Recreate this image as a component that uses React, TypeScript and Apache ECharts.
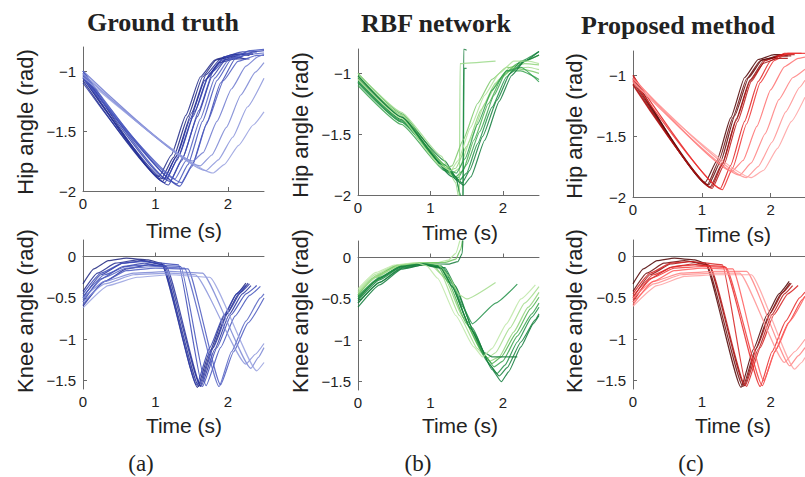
import React, { useEffect, useRef } from "react";
import * as echarts from "echarts";

// ---------- data: each line is a list of [time (s), angle (rad)] ----------
const timeTicks = [0, 1, 2];
const hipTicks = [-2, -1.5, -1];
const kneeTicks = [-1.5, -1, -0.5, 0];

const hipTruth: number[][][] = [
  [[0,-1.0],[1.08,-1.9],[1.25,-1.72],[1.45,-1.38],[1.65,-1.05],[1.85,-0.9],[2.1,-0.86],[2.3,-0.87]],
  [[0,-1.03],[1.1,-1.92],[1.28,-1.72],[1.5,-1.35],[1.7,-1.03],[1.9,-0.9],[2.15,-0.86],[2.35,-0.86]],
  [[0,-1.05],[1.13,-1.93],[1.3,-1.74],[1.52,-1.38],[1.72,-1.06],[1.92,-0.91],[2.2,-0.88]],
  [[0,-1.08],[1.05,-1.88],[1.22,-1.7],[1.42,-1.37],[1.62,-1.05],[1.82,-0.91],[2.05,-0.88],[2.25,-0.9]],
  [[0,-1.02],[1.15,-1.9],[1.33,-1.7],[1.55,-1.33],[1.75,-1.02],[1.95,-0.88],[2.2,-0.84],[2.4,-0.84]],
  [[0,-1.1],[1.18,-1.95],[1.36,-1.75],[1.58,-1.38],[1.78,-1.05],[1.98,-0.9],[2.2,-0.86],[2.35,-0.86]],
  [[0,-1.0],[1.2,-1.92],[1.38,-1.72],[1.6,-1.33],[1.8,-1.0],[2.0,-0.88],[2.25,-0.85]],
  [[0,-1.06],[1.12,-1.9],[1.3,-1.7],[1.48,-1.4],[1.68,-1.08],[1.88,-0.93],[2.1,-0.9],[2.3,-0.9]],
  [[0,-1.0],[1.3,-1.94],[1.45,-1.78],[1.65,-1.42],[1.85,-1.08],[2.05,-0.9],[2.3,-0.83],[2.5,-0.82]],
  [[0,-1.04],[1.34,-1.96],[1.5,-1.8],[1.7,-1.45],[1.9,-1.1],[2.1,-0.9],[2.35,-0.84],[2.5,-0.83]],
  [[0,-1.02],[1.27,-1.9],[1.42,-1.75],[1.62,-1.4],[1.82,-1.06],[2.02,-0.9],[2.3,-0.86],[2.5,-0.85]],
  [[0,-1.06],[1.36,-1.93],[1.52,-1.77],[1.72,-1.42],[1.94,-1.08],[2.14,-0.92],[2.4,-0.87],[2.5,-0.87]],
  [[0,-1.0],[1.52,-1.75],[1.66,-1.68],[1.85,-1.42],[2.05,-1.15],[2.25,-0.96],[2.42,-0.88],[2.5,-0.86]],
  [[0,-1.03],[1.62,-1.79],[1.78,-1.7],[1.98,-1.47],[2.18,-1.2],[2.38,-1.01],[2.5,-0.93]],
  [[0,-1.02],[1.7,-1.83],[1.87,-1.74],[2.07,-1.55],[2.27,-1.3],[2.5,-1.06]],
  [[0,-1.05],[1.8,-1.85],[1.95,-1.78],[2.15,-1.62],[2.35,-1.45],[2.5,-1.34]],
];
const hipTruthColors = ["#1c237e","#232c90","#2a35a0","#1f2887","#3140ad","#2a369f","#3a48b5","#26309a","#4252bb","#3a47b2","#5361c3","#4a58bf","#6d79cf","#7a86d4","#8893da","#97a0df"];

const kneeTruth: number[][][] = [
  [[0,-0.33],[0.15,-0.15],[0.35,-0.05],[0.6,-0.02],[0.9,-0.04],[1.08,-0.08],[1.58,-1.58],[1.75,-1.15],[1.95,-0.72],[2.12,-0.45],[2.25,-0.32]],
  [[0,-0.42],[0.2,-0.2],[0.45,-0.08],[0.75,-0.04],[1.1,-0.1],[1.6,-1.57],[1.78,-1.12],[1.98,-0.7],[2.15,-0.45],[2.28,-0.32]],
  [[0,-0.5],[0.25,-0.22],[0.55,-0.08],[0.85,-0.05],[1.12,-0.1],[1.62,-1.56],[1.8,-1.1],[2.0,-0.68],[2.18,-0.43],[2.3,-0.33]],
  [[0,-0.55],[0.25,-0.27],[0.55,-0.12],[0.85,-0.08],[1.1,-0.12],[1.57,-1.55],[1.75,-1.1],[1.95,-0.7],[2.12,-0.45],[2.25,-0.35]],
  [[0,-0.6],[0.3,-0.3],[0.6,-0.15],[0.9,-0.1],[1.15,-0.12],[1.63,-1.57],[1.82,-1.12],[2.02,-0.7],[2.2,-0.45],[2.32,-0.35]],
  [[0,-0.45],[0.25,-0.2],[0.55,-0.08],[0.85,-0.06],[1.32,-0.1],[1.65,-1.57],[1.85,-1.1],[2.05,-0.7],[2.25,-0.45],[2.4,-0.35]],
  [[0,-0.48],[0.3,-0.22],[0.6,-0.12],[0.9,-0.1],[1.35,-0.12],[1.7,-1.56],[1.9,-1.1],[2.1,-0.72],[2.3,-0.47],[2.45,-0.36]],
  [[0,-0.52],[0.3,-0.25],[0.6,-0.14],[1.0,-0.12],[1.4,-0.14],[1.88,-1.57],[2.05,-1.15],[2.25,-0.78],[2.45,-0.5],[2.5,-0.45]],
  [[0,-0.58],[0.3,-0.3],[0.6,-0.17],[1.0,-0.14],[1.45,-0.15],[1.9,-1.55],[2.08,-1.15],[2.28,-0.8],[2.5,-0.5]],
  [[0,-0.5],[0.3,-0.3],[0.7,-0.2],[1.2,-0.18],[1.65,-0.2],[2.32,-1.35],[2.42,-1.22],[2.5,-1.1]],
  [[0,-0.55],[0.3,-0.33],[0.7,-0.22],[1.2,-0.2],[1.55,-0.22],[2.25,-1.3],[2.38,-1.18],[2.5,-1.05]],
  [[0,-0.62],[0.35,-0.35],[0.75,-0.25],[1.2,-0.22],[1.75,-0.25],[2.4,-1.38],[2.5,-1.28]],
];
const kneeTruthColors = ["#1c237e","#232c90","#2a35a0","#3140ad","#26309a","#3a48b5","#4252bb","#5361c3","#4a58bf","#7a86d4","#8893da","#97a0df"];

const hipRbf: number[][][] = [
  [[0,-1.02],[0.6,-1.35],[1.1,-1.72],[1.25,-1.8],[1.35,-1.78],[1.5,-1.6],[1.7,-1.3],[1.9,-1.08],[2.1,-0.95],[2.3,-0.92],[2.5,-0.93]],
  [[0,-1.05],[0.6,-1.38],[1.15,-1.76],[1.3,-1.82],[1.4,-1.78],[1.55,-1.55],[1.75,-1.25],[1.95,-1.05],[2.15,-0.96],[2.35,-0.95],[2.5,-0.97]],
  [[0,-1.0],[0.6,-1.33],[1.2,-1.75],[1.35,-1.85],[1.45,-1.8],[1.6,-1.55],[1.8,-1.25],[2.0,-1.02],[2.2,-0.92],[2.5,-0.85]],
  [[0,-1.08],[0.6,-1.4],[1.25,-1.8],[1.4,-1.88],[1.5,-1.82],[1.65,-1.58],[1.85,-1.28],[2.05,-1.03],[2.25,-0.9],[2.5,-0.82]],
  [[0,-1.06],[0.6,-1.38],[1.28,-1.82],[1.44,-1.9],[1.54,-1.8],[1.72,-1.52],[1.92,-1.22],[2.1,-1.0],[2.3,-0.9],[2.5,-0.85]],
  [[0,-1.1],[0.6,-1.42],[1.2,-1.8],[1.38,-1.86],[1.5,-1.75],[1.68,-1.48],[1.88,-1.18],[2.05,-0.98],[2.25,-0.98],[2.5,-1.05]],
  [[0,-1.04],[0.6,-1.36],[1.2,-1.72],[1.35,-1.85],[1.45,-2.1],[1.46,-0.8],[1.5,-0.81]],
  [[0,-1.07],[0.6,-1.39],[1.22,-1.76],[1.36,-1.88],[1.45,-2.1],[1.465,-0.96],[1.5,-0.96]],
  [[0,-1.0],[0.6,-1.32],[1.15,-1.68],[1.35,-1.9],[1.4,-2.05],[1.41,-0.92],[1.9,-0.9]],
  [[0,-1.03],[0.6,-1.34],[1.1,-1.7],[1.22,-1.78],[1.3,-1.76],[1.45,-1.55],[1.65,-1.25],[1.85,-1.05],[2.05,-0.95],[2.3,-0.97],[2.5,-1.0]],
  [[0,-1.07],[0.6,-1.4],[1.22,-1.78],[1.36,-1.82],[1.48,-1.7],[1.65,-1.42],[1.85,-1.14],[2.05,-0.98],[2.25,-0.95],[2.5,-1.07]],
  [[0,-1.02],[0.6,-1.36],[1.3,-1.85],[1.46,-1.92],[1.56,-1.85],[1.75,-1.55],[1.95,-1.23],[2.12,-1.02],[2.3,-0.9],[2.5,-0.82]],
  [[0,-1.05],[0.6,-1.37],[1.12,-1.75],[1.28,-1.8],[1.38,-1.72],[1.55,-1.45],[1.75,-1.18],[1.95,-1.0],[2.15,-0.9],[2.35,-0.9],[2.5,-0.92]],
];
const hipRbfColors = ["#8fd47a","#a3dc8c","#4cb04f","#1f8f45","#15803c","#3aa34e","#137a38","#1f8f45","#9bd98a","#7cc96a","#2f9e4f","#0e7a3a","#b0e39a"];

const kneeRbf: number[][][] = [
  [[0,-0.42],[0.2,-0.25],[0.5,-0.12],[0.8,-0.07],[1.0,-0.08],[1.15,-0.2],[1.4,-0.7],[1.65,-1.1],[1.78,-1.22],[1.9,-1.15],[2.1,-0.85],[2.3,-0.55],[2.5,-0.35]],
  [[0,-0.45],[0.25,-0.24],[0.55,-0.1],[0.85,-0.07],[1.05,-0.1],[1.2,-0.25],[1.45,-0.72],[1.7,-1.12],[1.82,-1.25],[1.95,-1.2],[2.15,-0.9],[2.35,-0.6],[2.5,-0.42]],
  [[0,-0.5],[0.25,-0.28],[0.55,-0.12],[0.85,-0.07],[1.1,-0.1],[1.25,-0.3],[1.5,-0.8],[1.72,-1.15],[1.85,-1.28],[1.98,-1.2],[2.18,-0.92],[2.38,-0.62],[2.5,-0.48]],
  [[0,-0.55],[0.3,-0.3],[0.6,-0.12],[0.9,-0.08],[1.15,-0.12],[1.3,-0.35],[1.55,-0.85],[1.78,-1.25],[1.92,-1.4],[2.03,-1.3],[2.2,-1.02],[2.4,-0.72],[2.5,-0.6]],
  [[0,-0.6],[0.3,-0.33],[0.6,-0.14],[0.9,-0.09],[1.2,-0.12],[1.35,-0.35],[1.6,-0.9],[1.85,-1.35],[1.98,-1.5],[2.08,-1.38],[2.25,-1.08],[2.42,-0.8],[2.5,-0.7]],
  [[0,-0.48],[0.3,-0.25],[0.6,-0.1],[0.9,-0.07],[1.12,-0.1],[1.28,-0.3],[1.52,-0.78],[1.75,-1.18],[1.88,-1.32],[2.0,-1.25],[2.2,-0.95],[2.4,-0.68],[2.5,-0.55]],
  [[0,-0.52],[0.3,-0.27],[0.6,-0.11],[0.9,-0.08],[1.18,-0.12],[1.33,-0.33],[1.58,-0.85],[1.82,-1.3],[1.95,-1.43],[2.06,-1.33],[2.25,-1.02],[2.45,-0.75],[2.5,-0.68]],
  [[0,-0.4],[0.25,-0.2],[0.5,-0.1],[0.85,-0.06],[1.1,-0.06],[1.25,-0.03],[1.35,0.05],[1.42,0.25]],
  [[0,-0.45],[0.25,-0.22],[0.55,-0.09],[0.9,-0.06],[1.2,-0.06],[1.35,-0.02],[1.42,0.1],[1.45,0.25]],
  [[0,-0.5],[0.3,-0.25],[0.6,-0.1],[0.9,-0.07],[1.25,-0.08],[1.38,-0.05],[1.44,0.05],[1.45,0.25]],
  [[0,-0.47],[0.3,-0.24],[0.6,-0.1],[0.9,-0.07],[1.15,-0.1],[1.3,-0.3],[1.45,-0.6],[1.58,-0.8],[1.9,-0.55],[2.2,-0.32]],
  [[0,-0.43],[0.3,-0.2],[0.6,-0.09],[0.9,-0.06],[1.1,-0.08],[1.25,-0.22],[1.4,-0.45],[1.5,-0.5],[1.9,-0.3]],
  [[0,-0.55],[0.3,-0.3],[0.6,-0.13],[0.9,-0.09],[1.15,-0.13],[1.3,-0.35],[1.55,-0.85],[1.75,-1.15],[1.85,-1.2],[2.2,-1.2]],
  [[0,-0.38],[0.25,-0.18],[0.5,-0.09],[0.8,-0.06],[0.95,-0.1],[1.1,-0.25],[1.35,-0.7],[1.6,-1.08],[1.72,-1.2],[1.85,-1.1],[2.05,-0.8],[2.25,-0.5],[2.45,-0.33]],
];
const kneeRbfColors = ["#a3dc8c","#8fd47a","#4cb04f","#1f8f45","#0e7a3a","#3aa34e","#15803c","#b0e39a","#6cc35a","#137a38","#1f8f45","#a3dc8c","#137a38","#bde8a6"];

const hipProposed: number[][][] = [
  [[0,-1.0],[1.05,-1.88],[1.22,-1.7],[1.42,-1.35],[1.62,-1.02],[1.82,-0.87],[2.05,-0.83],[2.2,-0.83]],
  [[0,-1.03],[1.08,-1.9],[1.25,-1.7],[1.45,-1.35],[1.65,-1.03],[1.85,-0.88],[2.1,-0.84],[2.25,-0.84]],
  [[0,-1.05],[1.12,-1.92],[1.3,-1.72],[1.5,-1.36],[1.7,-1.04],[1.9,-0.88],[2.15,-0.84],[2.3,-0.84]],
  [[0,-1.08],[1.15,-1.93],[1.32,-1.74],[1.52,-1.38],[1.72,-1.05],[1.92,-0.88],[2.15,-0.83],[2.35,-0.83]],
  [[0,-1.02],[1.1,-1.9],[1.28,-1.7],[1.48,-1.33],[1.68,-1.02],[1.88,-0.87],[2.1,-0.85]],
  [[0,-1.0],[1.27,-1.93],[1.42,-1.74],[1.62,-1.38],[1.82,-1.05],[2.0,-0.88],[2.2,-0.82],[2.45,-0.82]],
  [[0,-1.04],[1.3,-1.94],[1.45,-1.76],[1.65,-1.4],[1.85,-1.06],[2.05,-0.88],[2.25,-0.82],[2.5,-0.82]],
  [[0,-1.02],[1.44,-1.79],[1.6,-1.7],[1.8,-1.42],[2.0,-1.12],[2.2,-0.93],[2.4,-0.86],[2.5,-0.85]],
  [[0,-1.05],[1.55,-1.82],[1.72,-1.72],[1.92,-1.48],[2.12,-1.2],[2.32,-1.02],[2.5,-0.95]],
  [[0,-1.03],[1.65,-1.84],[1.82,-1.75],[2.02,-1.55],[2.22,-1.3],[2.42,-1.1],[2.5,-1.04]],
  [[0,-1.06],[1.72,-1.84],[1.9,-1.78],[2.1,-1.6],[2.3,-1.38],[2.5,-1.18]],
  [[0,-1.07],[1.14,-1.92],[1.3,-1.73],[1.5,-1.37],[1.7,-1.05],[1.9,-0.9],[2.1,-0.86],[2.25,-0.86]],
];
const hipProposedColors = ["#4d0000","#6e0a0a","#8f1010","#c01818","#5a0505","#e02020","#f03030","#ff7070","#ff8080","#ff9090","#ffa0a0","#a31212"];

const kneeProposed: number[][][] = [
  [[0,-0.33],[0.15,-0.15],[0.35,-0.05],[0.6,-0.02],[0.9,-0.04],[1.05,-0.08],[1.57,-1.58],[1.75,-1.12],[1.95,-0.7],[2.12,-0.45],[2.27,-0.3]],
  [[0,-0.42],[0.2,-0.2],[0.45,-0.08],[0.75,-0.05],[1.07,-0.1],[1.6,-1.57],[1.78,-1.12],[1.98,-0.7],[2.15,-0.45],[2.28,-0.32]],
  [[0,-0.5],[0.25,-0.22],[0.55,-0.09],[0.85,-0.06],[1.1,-0.1],[1.62,-1.56],[1.8,-1.1],[2.0,-0.68],[2.18,-0.43],[2.3,-0.32]],
  [[0,-0.55],[0.25,-0.27],[0.55,-0.13],[0.85,-0.09],[1.12,-0.12],[1.63,-1.56],[1.82,-1.12],[2.02,-0.7],[2.2,-0.45],[2.32,-0.35]],
  [[0,-0.45],[0.25,-0.2],[0.55,-0.08],[0.85,-0.06],[1.3,-0.1],[1.65,-1.57],[1.85,-1.1],[2.05,-0.7],[2.25,-0.45],[2.4,-0.35]],
  [[0,-0.48],[0.3,-0.22],[0.6,-0.12],[0.9,-0.1],[1.33,-0.12],[1.85,-1.57],[2.02,-1.15],[2.22,-0.78],[2.42,-0.5],[2.5,-0.43]],
  [[0,-0.52],[0.3,-0.25],[0.6,-0.14],[1.0,-0.12],[1.35,-0.13],[1.88,-1.56],[2.06,-1.15],[2.26,-0.8],[2.46,-0.52],[2.5,-0.48]],
  [[0,-0.5],[0.3,-0.3],[0.7,-0.2],[1.2,-0.18],[1.65,-0.18],[2.28,-1.32],[2.4,-1.2],[2.5,-1.1]],
  [[0,-0.55],[0.3,-0.33],[0.7,-0.22],[1.2,-0.2],[1.55,-0.2],[2.2,-1.28],[2.35,-1.15],[2.5,-1.0]],
  [[0,-0.6],[0.35,-0.35],[0.75,-0.24],[1.2,-0.22],[1.72,-0.22],[2.35,-1.36],[2.45,-1.28],[2.5,-1.22]],
  [[0,-0.58],[0.3,-0.3],[0.6,-0.17],[1.0,-0.14],[1.45,-0.15],[1.9,-1.5],[2.08,-1.12],[2.28,-0.78],[2.5,-0.48]],
];
const kneeProposedColors = ["#4d0000","#6e0a0a","#8f1010","#b81515","#d61e1e","#e82828","#f03a3a","#ff8080","#ff9090","#ffa0a0","#ff5a5a"];

const columnTitles = ["Ground truth", "RBF network", "Proposed method"];
const columnLetters = ["(a)", "(b)", "(c)"];
const timeLabel = "Time (s)";
const hipLabel = "Hip angle (rad)";
const kneeLabel = "Knee angle (rad)";

// ---------- layout ----------
const colLeft = [83, 358, 633];
const plotWidth = 181;
const topRow = [
  { top: 47, height: 144 },
  { top: 49, height: 146 },
  { top: 51, height: 146 },
];
const bottomRow = [
  { top: 240, height: 149 },
  { top: 241, height: 149 },
  { top: 240, height: 149 },
];

const SANS = "'Liberation Sans', Arial, sans-serif";
const SERIF = "'Liberation Serif', 'Times New Roman', serif";

const fmt = (v: number) => String(v).replace("-", "\u2212");

export default function App() {
  const ref = useRef<HTMLDivElement>(null);
  useEffect(() => {
    if (!ref.current) return;
    const chart = echarts.init(ref.current, null, { renderer: "svg" });

    const panels = [
      { lines: hipTruth, colors: hipTruthColors, col: 0, row: 0 },
      { lines: hipRbf, colors: hipRbfColors, col: 1, row: 0 },
      { lines: hipProposed, colors: hipProposedColors, col: 2, row: 0 },
      { lines: kneeTruth, colors: kneeTruthColors, col: 0, row: 1 },
      { lines: kneeRbf, colors: kneeRbfColors, col: 1, row: 1 },
      { lines: kneeProposed, colors: kneeProposedColors, col: 2, row: 1 },
    ];

    const axisLine = { show: true, lineStyle: { color: "#6a6a6a", width: 1 } };
    const grid: any[] = [];
    const xAxis: any[] = [];
    const yAxis: any[] = [];
    const series: any[] = [];

    panels.forEach((p, i) => {
      const g = p.row === 0 ? topRow[p.col] : bottomRow[p.col];
      grid.push({ left: colLeft[p.col], top: g.top, width: plotWidth, height: g.height, containLabel: false });
      xAxis.push({
        type: "value", gridIndex: i, min: 0, max: 2.5,
        axisLine, splitLine: { show: false },
        axisTick: { show: true, inside: true, length: 4, customValues: timeTicks, lineStyle: { color: "#6a6a6a" } },
        axisLabel: { customValues: timeTicks, margin: 5, fontFamily: SANS, fontSize: 15, lineHeight: 15, color: "#222", formatter: fmt },
      });
      const ticks = p.row === 0 ? hipTicks : kneeTicks;
      yAxis.push({
        type: "value", gridIndex: i,
        min: p.row === 0 ? -2 : -1.6, max: p.row === 0 ? -0.8 : 0.2,
        axisLine, splitLine: { show: false },
        axisTick: { show: true, inside: true, length: 4, customValues: ticks, lineStyle: { color: "#6a6a6a" } },
        axisLabel: { customValues: ticks, margin: 7, fontFamily: SANS, fontSize: 15, color: "#222", formatter: fmt },
      });
      p.lines.forEach((line, j) => {
        series.push({
          type: "line", xAxisIndex: i, yAxisIndex: i, data: line,
          showSymbol: false, symbol: "none", smooth: 0.15, smoothMonotone: "x",
          lineStyle: { color: p.colors[j % p.colors.length], width: 1.2, opacity: 0.85 },
          silent: true, clip: true,
        });
      });
    });

    const graphics: any[] = [];
    const titleY = [22, 23, 25];
    const titleX = [163, 436, 678];
    const ylabX = [25, 300, 574];
    const hipY = [122, 125, 126];
    const timeX = [184, 460, 733];
    const timeTopY = [230, 232, 234];
    const letterX = [141, 418, 691];
    for (let c = 0; c < 3; c++) {
      graphics.push({ type: "text", x: titleX[c], y: titleY[c], style: { text: columnTitles[c], font: `bold 26px ${SERIF}`, fill: "#222", textAlign: "center", textVerticalAlign: "middle" } });
      graphics.push({ type: "text", x: ylabX[c], y: hipY[c], rotation: Math.PI / 2, style: { text: hipLabel, font: `22px ${SANS}`, fill: "#222", textAlign: "center", textVerticalAlign: "middle" } });
      graphics.push({ type: "text", x: ylabX[c], y: 311, rotation: Math.PI / 2, style: { text: kneeLabel, font: `22px ${SANS}`, fill: "#222", textAlign: "center", textVerticalAlign: "middle" } });
      graphics.push({ type: "text", x: timeX[c], y: timeTopY[c], style: { text: timeLabel, font: `21px ${SANS}`, fill: "#222", textAlign: "center", textVerticalAlign: "middle" } });
      graphics.push({ type: "text", x: timeX[c], y: 425, style: { text: timeLabel, font: `21px ${SANS}`, fill: "#222", textAlign: "center", textVerticalAlign: "middle" } });
      graphics.push({ type: "text", x: letterX[c], y: 463, style: { text: columnLetters[c], font: `23px ${SERIF}`, fill: "#222", textAlign: "center", textVerticalAlign: "middle" } });
    }

    chart.setOption({
      animation: false,
      backgroundColor: "#ffffff",
      grid, xAxis, yAxis, series,
      graphic: graphics,
    });
    return () => chart.dispose();
  }, []);

  return <div ref={ref} style={{ position: "fixed", left: 0, top: 0, width: 805, height: 477, background: "#fff" }} />;
}
